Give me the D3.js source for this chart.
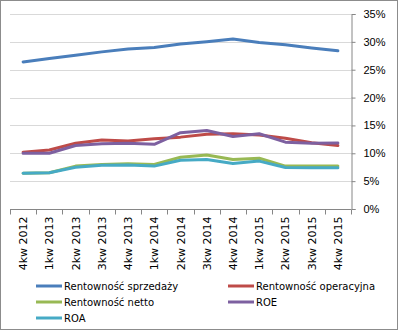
<!DOCTYPE html>
<html>
<head>
<meta charset="utf-8">
<script src="https://cdn.jsdelivr.net/npm/d3@7"></script>
<style>
  body { margin: 0; background: #fff; }
  svg { display: block; font-family: "DejaVu Sans", Verdana, sans-serif; }
</style>
</head>
<body>
<script>
// categories (quarters)
const quarters = ["4kw 2012", "1kw 2013", "2kw 2013", "3kw 2013", "4kw 2013", "1kw 2014",
  "2kw 2014", "3kw 2014", "4kw 2014", "1kw 2015", "2kw 2015", "3kw 2015", "4kw 2015"];

// values in %
const rentSprzedazy = [26.4, 27.0, 27.6, 28.2, 28.7, 29.0, 29.6, 30.0, 30.5, 29.9, 29.5, 28.9, 28.4];
const rentOperacyjna = [10.2, 10.6, 11.8, 12.4, 12.2, 12.6, 12.9, 13.4, 13.5, 13.3, 12.7, 11.9, 11.4];
const rentNetto = [6.4, 6.5, 7.7, 8.0, 8.1, 8.0, 9.3, 9.7, 8.9, 9.1, 7.7, 7.7, 7.7];
const roe = [10.0, 10.0, 11.4, 11.7, 11.8, 11.6, 13.7, 14.1, 13.0, 13.5, 12.0, 11.8, 11.85];
const roa = [6.4, 6.5, 7.5, 7.85, 7.9, 7.7, 8.75, 8.9, 8.15, 8.6, 7.45, 7.4, 7.4];

const seriesNames = ["Rentowność sprzedaży", "Rentowność operacyjna", "Rentowność netto", "ROE", "ROA"];
const seriesValues = [rentSprzedazy, rentOperacyjna, rentNetto, roe, roa];
const seriesColors = ["#4a7ebb", "#be4b48", "#98b954", "#7d60a0", "#46aac5"];

const yTicks = [0, 5, 10, 15, 20, 25, 30, 35];

const W = 398, H = 330;
const plot = {left: 10, right: 351, top: 14, bottom: 209};

const svg = d3.select("body").append("svg")
  .attr("width", W)
  .attr("height", H);

svg.append("rect")
  .attr("x", 0.5).attr("y", 0.5)
  .attr("width", W - 1).attr("height", H - 1)
  .attr("fill", "#fff")
  .attr("stroke", "#8c8c8c");

const x = d3.scaleBand()
  .domain(quarters)
  .range([plot.left, plot.right]);

const y = d3.scaleLinear()
  .domain([0, 35])
  .range([plot.bottom, plot.top]);

// gridlines
svg.append("g")
  .selectAll("line")
  .data(yTicks.filter(d => d > 0))
  .join("line")
    .attr("x1", plot.left)
    .attr("x2", plot.right)
    .attr("y1", d => Math.round(y(d)) + 0.5)
    .attr("y2", d => Math.round(y(d)) + 0.5)
    .attr("stroke", "#d9d9d9");

// right y axis
const yAxis = svg.append("g")
  .attr("transform", `translate(${plot.right + 0.5},0)`)
  .call(d3.axisRight(y).tickValues(yTicks).tickFormat(d => d + "%").tickSize(4).tickPadding(8));
yAxis.select(".domain").attr("stroke", "#868686");
yAxis.selectAll(".tick line").attr("stroke", "#868686");
yAxis.selectAll(".tick text")
  .attr("fill", "#000")
  .style("font-size", "11px");

// bottom x axis
const xAxis = svg.append("g")
  .attr("transform", `translate(0,${plot.bottom + 0.5})`);
xAxis.append("line")
  .attr("x1", plot.left).attr("x2", plot.right)
  .attr("stroke", "#868686");
xAxis.selectAll(".tk")
  .data(quarters.concat(["end"]))
  .join("line")
    .attr("class", "tk")
    .attr("x1", (d, i) => Math.round(plot.left + i * x.step()) + 0.5)
    .attr("x2", (d, i) => Math.round(plot.left + i * x.step()) + 0.5)
    .attr("y1", 0).attr("y2", 5)
    .attr("stroke", "#868686");
xAxis.selectAll("text")
  .data(quarters)
  .join("text")
    .attr("transform", d => `translate(${x(d) + x.bandwidth() / 2 + 4},7) rotate(-90)`)
    .attr("text-anchor", "end")
    .style("font-size", "11px")
    .text(d => d);

// lines
const line = d3.line()
  .x((d, i) => x(quarters[i]) + x.bandwidth() / 2)
  .y(d => y(d));

svg.append("g")
  .selectAll("path")
  .data(seriesValues)
  .join("path")
    .attr("d", d => line(d))
    .attr("fill", "none")
    .attr("stroke", (d, i) => seriesColors[i])
    .attr("stroke-width", 3)
    .attr("stroke-linejoin", "round")
    .attr("stroke-linecap", "round");

// legend
const legendPos = [[36, 286], [228, 286], [36, 302], [228, 302], [36, 318]];
const legend = svg.append("g")
  .selectAll("g")
  .data(seriesNames)
  .join("g")
    .attr("transform", (d, i) => `translate(${legendPos[i][0]},${legendPos[i][1]})`);
legend.append("line")
  .attr("x1", 0).attr("x2", 26)
  .attr("stroke", (d, i) => seriesColors[i])
  .attr("stroke-width", 3);
legend.append("text")
  .attr("x", 28)
  .attr("dy", "0.35em")
  .style("font-size", "10px")
  .text(d => d);
</script>
</body>
</html>
